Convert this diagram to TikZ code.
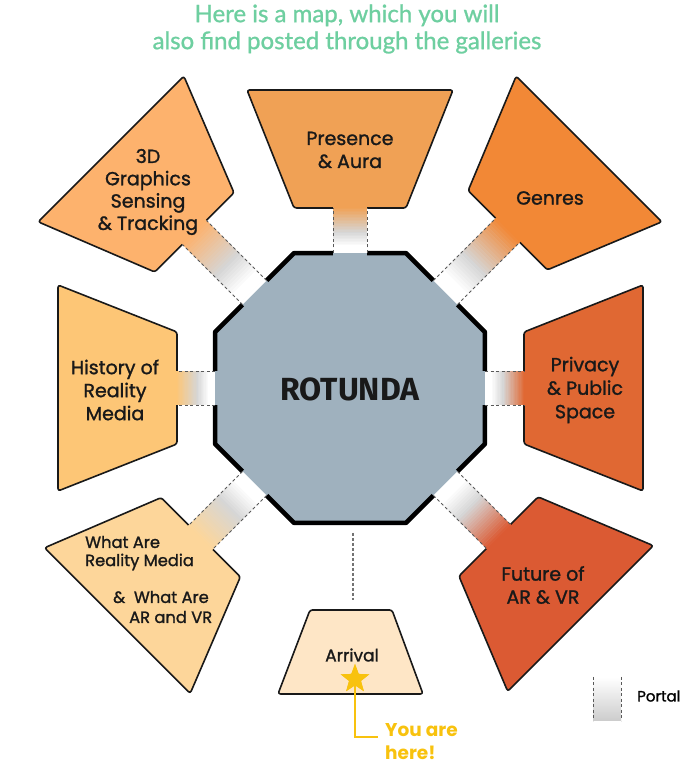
\documentclass[tikz,border=0pt]{standalone}
\usepackage{fontspec}
\setmainfont{Poppins}
\newfontfamily\medfont{Poppins}[FakeBold=1.3]
\newfontfamily\titlefont{Lato}[FakeBold=1.0]
\newfontfamily\rotfont{Fira Sans}
\usetikzlibrary{shapes.geometric}
\definecolor{octfill}{HTML}{9FB1BE}
\definecolor{cthree}{HTML}{FDB26D}
\definecolor{cpres}{HTML}{F0A155}
\definecolor{cgenres}{HTML}{F28836}
\definecolor{cpriv}{HTML}{E06833}
\definecolor{cfuture}{HTML}{DB5A33}
\definecolor{chist}{HTML}{FDC676}
\definecolor{cwhat}{HTML}{FDD69A}
\definecolor{carr}{HTML}{FEE6C6}
\definecolor{ctitle}{HTML}{6ECFA0}
\definecolor{cyellow}{HTML}{F8C20E}
\definecolor{portalgray}{HTML}{D6D6D6}
\tikzset{
  roomshape/.style={draw=black!90, line width=1.6pt, rounded corners=2.5pt, line join=round},
  roomtext/.style={font=\medfont\fontsize{19}{23}\selectfont, align=center, text=black!90, inner sep=0pt},
  smalltext/.style={font=\medfont\fontsize{16.3}{20}\selectfont, text=black!90, inner sep=0pt, anchor=west},
  portaldash/.style={draw=black!65, line width=0.9pt, dash pattern=on 3pt off 2.5pt},
}
% angle, u_in, u_out, colour
\newcommand{\drawroom}[4]{%
  \begin{scope}[shift={(350,382)}, rotate=#1]
    \draw[roomshape, fill=#4] (#2,-56) -- (#3,-103) -- (#3,103) -- (#2,56) -- cycle;
  \end{scope}}
% angle, u_in, colour
\newcommand{\drawportal}[3]{%
  \begin{scope}[shift={(350,382)}, rotate=#1]
    \fill[octfill] (126,-17) rectangle (135.5,17);
    \fill[#3] (#2-1,-17) rectangle (#2+2.5,17);
    \foreach \i in {0,...,29}{
      \pgfmathsetmacro\ua{#2-(#2-135)*\i/30+0.4}
      \pgfmathsetmacro\ub{#2-(#2-135)*(\i+1)/30}
      \pgfmathsetmacro\tt{(\i+0.5)/30}
      \pgfmathsetmacro\pa{max(0,min(100,100*(1-\tt/0.55)))}
      \pgfmathsetmacro\pb{max(0,min(100,100*(1-(\tt-0.55)/0.3)))}
      \colorlet{tmpmix}{portalgray!\pb!white}
      \fill[color={#3!\pa!tmpmix}] (\ub,-17) rectangle (\ua,17);
    }
    \draw[portaldash] (135,17) -- (#2,17);
    \draw[portaldash] (135,-17) -- (#2,-17);
  \end{scope}}
\begin{document}
\begin{tikzpicture}[x=1pt,y=1pt]
\useasboundingbox (0,0) rectangle (700,770);
\fill[white] (0,0) rectangle (700,770);

% title
\node[font=\titlefont\fontsize{24}{27}\selectfont, text=ctitle, align=center] (title) at (347,741)
  {Here is a map, which you will\\also find posted through the galleries};

% rotunda
\draw[fill=octfill, line width=4.5pt, line join=round, shift={(350,382)}]
  (22.5:146.1) -- (67.5:146.1) -- (112.5:146.1) -- (157.5:146.1) -- (202.5:146.1)
  -- (247.5:146.1) -- (292.5:146.1) -- (337.5:146.1) -- cycle;

% rooms
\drawroom{90}{180}{298}{cpres}
\drawroom{45}{223}{338}{cgenres}
\drawroom{0}{174}{293}{cpriv}
\drawroom{-45}{210}{326}{cfuture}
\drawroom{-135}{211}{329}{cwhat}
\drawroom{180}{173}{292}{chist}
\drawroom{135}{220}{338}{cthree}

% portals
\drawportal{90}{180}{cpres}
\drawportal{45}{223}{cgenres}
\drawportal{0}{174}{cpriv}
\drawportal{-45}{210}{cfuture}
\drawportal{-135}{211}{cwhat}
\drawportal{180}{173}{chist}
\drawportal{135}{220}{cthree}

% path to arrival
\coordinate (octbottom) at (353,237);
\coordinate (arrtop) at (353,170);
\draw[draw=black!55, line width=1.8pt, dash pattern=on 3pt off 2pt] (octbottom) -- (arrtop);

% arrival
\draw[roomshape, fill=carr] (310,160) -- (392,160) -- (423,76) -- (278,76) -- cycle;

% labels
\node[font=\rotfont\bfseries\fontsize{32}{36}\selectfont, text=black!90] (rot) at (350,381) {ROTUNDA};
\node[roomtext] (tpres) at (350,620) {Presence\\\& Aura};
\node[roomtext] (tgenres) at (550,572) {Genres};
\node[roomtext, font=\medfont\fontsize{19}{23.5}\selectfont] (tpriv) at (585,380) {Privacy\\\& Public\\Space};
\node[roomtext] (tfuture) at (543,185) {Future of\\AR \& VR};
\node[roomtext] (thist) at (115,380) {History of\\Reality\\Media};
\node[roomtext, font=\medfont\fontsize{19}{22.3}\selectfont] (tthree) at (148,578) {3D\\Graphics\\Sensing\\\& Tracking};
\node[smalltext] (twa) at (85,228) {What Are};
\node[smalltext] (twb) at (85,208) {Reality Media};
\node[smalltext] (twc) at (113,173) {\&\ \ What Are};
\node[smalltext] (twd) at (129,153) {AR and VR};
\node[roomtext, font=\medfont\fontsize{17}{20}\selectfont] (tarr) at (352,115) {Arrival};

% you are here
\node[star, star points=5, star point ratio=2.4, fill=cyellow, inner sep=0pt, minimum size=30pt] (star) at (355,91) {};
\coordinate (yhend) at (378,33);
\draw[cyellow, line width=2.6pt] (star.center) |- (yhend);
\node[star, star points=5, star point ratio=2.4, fill=cyellow, inner sep=0pt, minimum size=30pt] at (star) {};
\node[font=\bfseries\fontsize{18.5}{22}\selectfont, text=cyellow, anchor=west, inner sep=0pt] (youare) at (385,40) {You are};
\node[font=\bfseries\fontsize{18.5}{22}\selectfont, text=cyellow, anchor=west, inner sep=0pt] (here) at (385,17) {here!};

% legend
\shade[top color=white, bottom color=gray!40] (593,49) rectangle (621,93);
\coordinate (lgA) at (593,93); \coordinate (lgB) at (593,49);
\coordinate (lgC) at (621,93); \coordinate (lgD) at (621,49);
\draw[portaldash] (lgA) -- (lgB);
\draw[portaldash] (lgC) -- (lgD);
\node[font=\medfont\fontsize{15}{18}\selectfont, anchor=west, inner sep=0pt] (portal) at (637,74) {Portal};
\end{tikzpicture}
\end{document}
